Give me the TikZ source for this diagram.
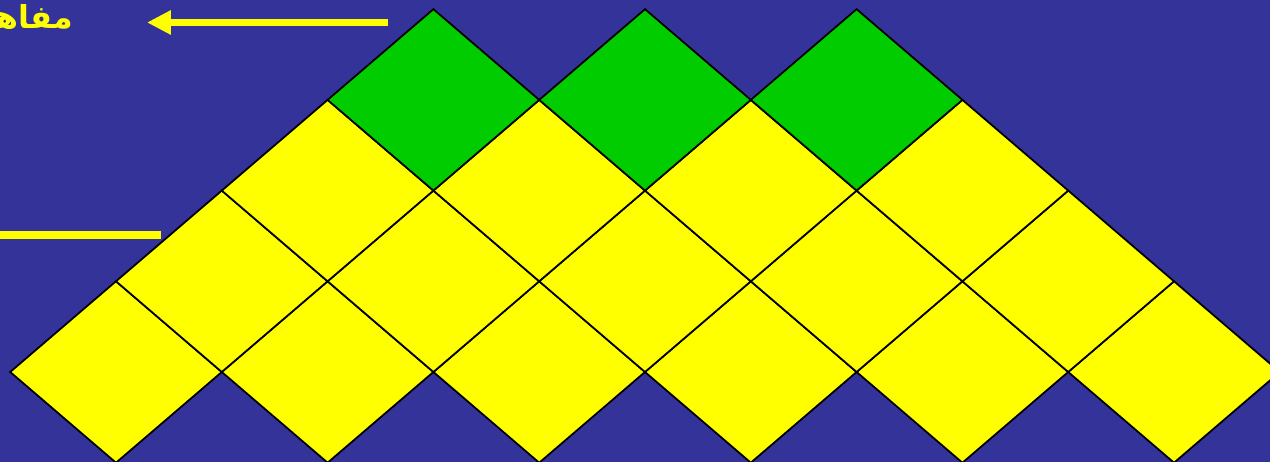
\documentclass[tikz,border=0pt]{standalone}
\usepackage{fontspec}
\newfontfamily\arabicfont[Script=Arabic]{DejaVu Sans}
\TeXXeTstate=1
\usetikzlibrary{arrows.meta}

\definecolor{bgblue}{RGB}{51,51,153}
\definecolor{tileyellow}{RGB}{255,255,0}
\definecolor{tilegreen}{RGB}{0,204,0}

\begin{document}
\begin{tikzpicture}[
    x=0.02cm, y=-0.02cm,
    tile/.style    = {draw=black, line width=1pt, line join=miter},
    lower/.style   = {tile, fill=tileyellow},
    upper/.style   = {tile, fill=tilegreen},
    pointer/.style = {draw=tileyellow, line width=4.5pt},
    label/.style   = {text=tileyellow, font=\arabicfont\bfseries\fontsize{18}{21}\selectfont,
                      inner sep=0pt}
  ]

  % ── Background ──────────────────────────────────────────────
  \clip (0,0) rectangle (1270,462);
  \fill[bgblue] (0,0) rectangle (1270,462);

  % ── Yellow rows (bottom up) ─────────────────────────────────
  \foreach \r/\n in {0/5, 1/4, 2/3} {
    \foreach \k in {0,...,\n} {
      \pgfmathsetmacro{\cx}{116 + 105.8*\r + 211.6*\k}
      \pgfmathsetmacro{\cy}{372 - 90.7*\r}
      \draw[lower] (\cx-105.8,\cy) -- (\cx,\cy-90.7) -- (\cx+105.8,\cy)
                   -- (\cx,\cy+90.7) -- cycle;
    }
  }

  % ── Green top row ───────────────────────────────────────────
  \foreach \k in {0,1,2} {
    \pgfmathsetmacro{\cx}{433.4 + 211.6*\k}
    \draw[upper] (\cx-105.8,99.9) -- (\cx,9.2) -- (\cx+105.8,99.9)
                 -- (\cx,190.6) -- cycle;
  }

  % ── Labels and pointers ─────────────────────────────────────
  \node[label, anchor=base east] (title) at (73,29) {\beginR مفاهيم\endR};
  \coordinate (arrs) at (388,22.5);
  \coordinate (arre) at (147,22.5);
  \draw[pointer, -{Triangle[length=0.48cm, width=0.46cm]}] (arrs) -- (arre);

  \coordinate (bars) at (-10,235);
  \coordinate (bare) at (161,235);
  \draw[pointer] (bars) -- (bare);

\end{tikzpicture}
\end{document}
